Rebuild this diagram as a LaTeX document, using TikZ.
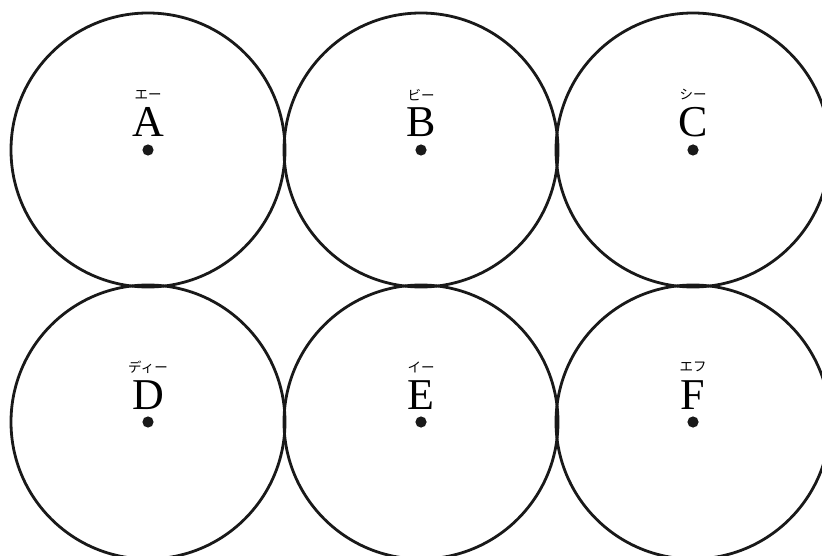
\documentclass[tikz,border=0pt]{standalone}
\usepackage{fontspec}
\setmainfont{Liberation Serif}
\newfontfamily\jpfont{Noto Sans CJK JP}
\begin{document}
\begin{tikzpicture}[x=1pt,y=-1pt,
  ring/.style={draw=black!90,line width=2.8pt},
  letter/.style={font=\fontsize{44}{44}\selectfont,anchor=base,inner sep=0pt},
  kana/.style={font=\jpfont\fontsize{13.5}{13.5}\selectfont,anchor=center,inner sep=0pt},
  pt/.style={fill=black!90}]
\useasboundingbox (0,0) rectangle (822,556);
\foreach \n/\x/\y/\L/\K in {a/148/150/A/エー, b/421/150/B/ビー, c/693/150/C/シー, d/148/422/D/ディー, e/421/422/E/イー, f/693/422/F/エフ}{
  \coordinate (\n) at (\x,\y);
  \draw[ring] (\n) circle[radius=137];
  \fill[pt] (\n) circle[radius=5.6];
  \node[letter] (\n L) at ([yshift=13]\n) {\L};
  \node[kana] (\n K) at ([yshift=55]\n) {\K};
}
\end{tikzpicture}
\end{document}
